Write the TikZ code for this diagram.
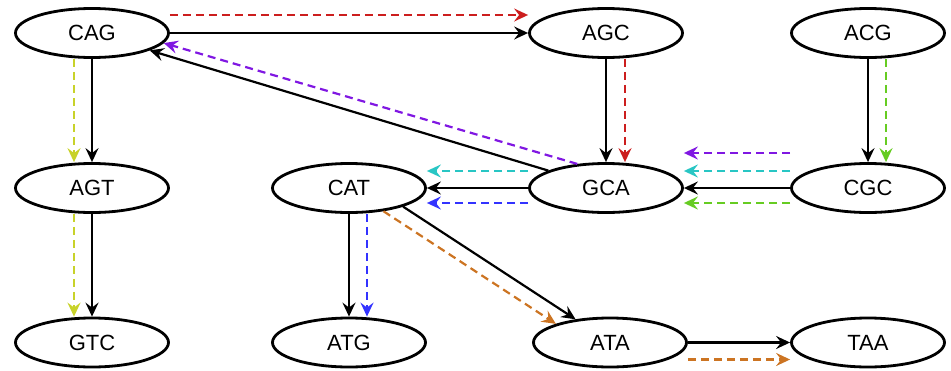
\documentclass[tikz,border=0pt]{standalone}
\usepackage{fontspec}
\setmainfont{Liberation Sans}
\usetikzlibrary{arrows.meta,shapes.geometric}

\definecolor{cred}{RGB}{204,30,30}
\definecolor{cpurple}{RGB}{128,23,226}
\definecolor{ccyan}{RGB}{40,198,196}
\definecolor{cgreen}{RGB}{102,204,34}
\definecolor{cyellow}{RGB}{200,210,42}
\definecolor{cblue}{RGB}{51,51,255}
\definecolor{corange}{RGB}{204,116,34}

\tikzset{
  kmer/.style={ellipse, draw=black, line width=2.8pt, fill=white,
    minimum width=153pt, minimum height=49pt, inner sep=0pt,
    font=\fontsize{22}{25}\selectfont},
  edge/.style={line width=2.2pt, -{Stealth[length=14pt,width=13pt,inset=5pt]}},
  solidedge/.style={edge, color=black},
  pathedge/.style={edge, dash pattern=on 8pt off 5pt, color=#1}
}

\begin{document}
\begin{tikzpicture}[x=1pt,y=-1pt]
\useasboundingbox (0,0) rectangle (951,370);

% k-mer nodes
\node[kmer] (cag) at (92,33)  {CAG};
\node[kmer] (agc) at (606,33) {AGC};
\node[kmer] (acg) at (868,33) {ACG};
\node[kmer] (agt) at (92,188) {AGT};
\node[kmer] (cat) at (349,188) {CAT};
\node[kmer] (gca) at (606,188) {GCA};
\node[kmer] (cgc) at (868,188) {CGC};
\node[kmer] (gtc) at (92,342.5) {GTC};
\node[kmer] (atg) at (349,342.5) {ATG};
\node[kmer] (ata) at (610,342.5) {ATA};
\node[kmer] (taa) at (868,342.5) {TAA};

% graph edges
\draw[solidedge] (cag.east) -- (agc.west);
\draw[solidedge] (cag.south) -- (agt.north);
\draw[solidedge] (agt.south) -- (gtc.north);
\draw[solidedge] (agc.south) -- (gca.north);
\draw[solidedge] (acg.south) -- (cgc.north);
\draw[solidedge] (cgc.west) -- (gca.east);
\draw[solidedge] (gca.west) -- (cat.east);
\draw[solidedge] (gca) -- (cag);
\draw[solidedge] (cat.-19) -- (ata.146);
\draw[solidedge] (cat.south) -- (atg.north);
\draw[solidedge] (ata.east) -- (taa.west);

% coloured walks
\draw[pathedge=cred] ([yshift=18pt]cag.east) -- ([yshift=18pt]agc.west);
\draw[pathedge=cred] ([xshift=19pt]agc.south) -- ([xshift=19pt]gca.north);
\draw[pathedge=cyellow] ([xshift=-18pt]cag.south) -- ([xshift=-18pt]agt.north);
\draw[pathedge=cyellow] ([xshift=-18pt]agt.south) -- ([xshift=-18pt]gtc.north);
\draw[pathedge=cgreen] ([xshift=18pt]acg.south) -- ([xshift=18pt]cgc.north);
\draw[pathedge=cpurple] ([yshift=35pt]cgc.west) -- ([yshift=35pt]gca.east);
\draw[pathedge=ccyan] ([yshift=17pt]cgc.west) -- ([yshift=17pt]gca.east);
\draw[pathedge=cgreen] ([yshift=-15pt]cgc.west) -- ([yshift=-15pt]gca.east);
\draw[pathedge=ccyan] ([yshift=17pt]gca.west) -- ([yshift=17pt]cat.east);
\draw[pathedge=cblue] ([yshift=-15pt]gca.west) -- ([yshift=-15pt]cat.east);
\draw[pathedge=cpurple] (gca.140) -- (cag.-8);
\draw[pathedge=cblue] ([xshift=18pt]cat.south) -- ([xshift=18pt]atg.north);
\draw[pathedge=corange] (cat.-34) -- (ata.161);
\draw[pathedge=corange] ([yshift=-17pt]ata.east) -- ([yshift=-17pt]taa.west);
\end{tikzpicture}
\end{document}
